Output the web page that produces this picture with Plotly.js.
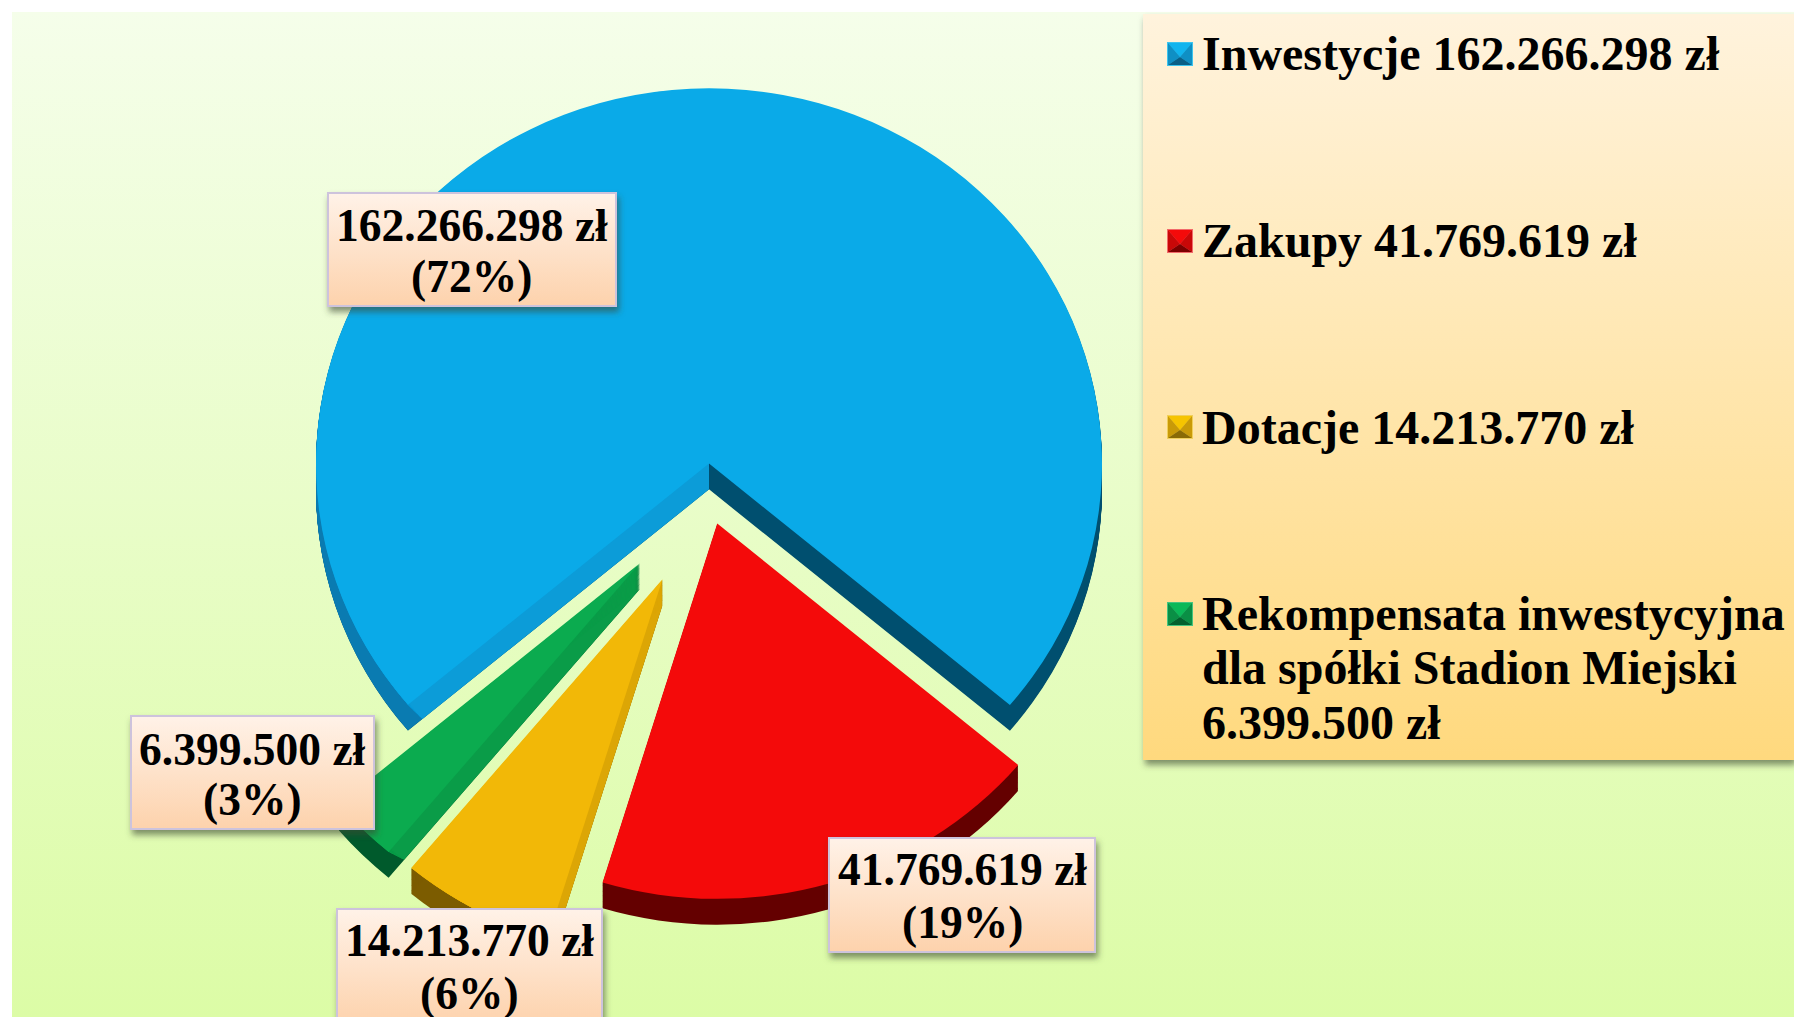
<!DOCTYPE html>
<html lang="pl">
<head>
<meta charset="utf-8">
<title>Wydatki majątkowe</title>
<script src="https://cdn.plot.ly/plotly-3.0.1.min.js"></script>
<style>
html,body{margin:0;padding:0;background:#fff;overflow:hidden}
#chart{width:1794px;height:1017px}
</style>
</head>
<body>
<div id="chart"></div>
<script>
// ---- data ----
const categories = ['Inwestycje', 'Zakupy', 'Dotacje', 'Rekompensata inwestycyjna dla spółki Stadion Miejski'];
const amounts = [162266298, 41769619, 14213770, 6399500];
const amountLabels = ['162.266.298 zł', '41.769.619 zł', '14.213.770 zł', '6.399.500 zł'];
const shareLabels = ['(72%)', '(19%)', '(6%)', '(3%)'];
const legendLines = [
  ['Inwestycje 162.266.298 zł'],
  ['Zakupy 41.769.619 zł'],
  ['Dotacje 14.213.770 zł'],
  ['Rekompensata inwestycyjna', 'dla spółki Stadion Miejski', '6.399.500 zł']
];

// ---- styles ----
const topColors = ['#0aaae8', '#f40a0a', '#f2b807', '#0bab4f'];
const sideColors = ['#004f6f', '#640000', '#7c5c00', '#005a2c'];
const cutColors = ['rgba(0,0,0,0)', 'rgba(0,0,0,0)', '#dca605', '#0a9c48'];
const blueLeftArc = '#0a7bb1', blueLeftCut = '#0c9cd8';
const CLEAR = 'rgba(0,0,0,0)';
const markerShades = [
  {rim:'#3cc4ee', top:'#12b4ee', side:'#0f8fc4', bot:'#0a5f86'},
  {rim:'#f26a6a', top:'#f40a0a', side:'#c90808', bot:'#7c0000'},
  {rim:'#f0cf5a', top:'#f6c400', side:'#c99a08', bot:'#8a6a05'},
  {rim:'#45c47f', top:'#0bb858', side:'#0a8f45', bot:'#04602e'}
];

// ---- geometry ----
const W = 1794, H = 1017;
const CX = 709, CY = 497, R = 393, SQUASH = 0.955, DEPTH = 27, STEP = 1, ROT = 230;
const pullPx = [35, 29, 98, 98];
const px = x => x / W, py = y => 1 - y / H;

function pieTrace(name, labels, values, colors, r, pulls, cy) {
  const maxPull = Math.max(...pulls);
  const half = r + maxPull;
  return {
    type: 'pie', name, labels, values, sort: false, direction: 'clockwise', rotation: ROT,
    pull: pulls.map(p => p / r),
    marker: {colors, line: {width: 0}},
    textinfo: 'none', hoverinfo: 'skip', showlegend: false,
    domain: {x: [px(CX - half), px(CX + half)], y: [py(cy + half), py(cy - half)]}
  };
}

const total = amounts.reduce((a, b) => a + b, 0);
const blueHalf = [amounts[0] / 2, total - amounts[0] / 2];
const blueHalfLabels = ['Inwestycje (bok)', 'pozostałe'];
const offsets = [];
for (let d = STEP; d <= DEPTH; d += STEP) offsets.push(d);

const traces = [];
// the thickness of the disc: the same slices swept downwards
offsets.forEach(d => traces.push(pieTrace('bok', categories, amounts, sideColors, R, pullPx, CY + d)));
offsets.forEach(d => traces.push(pieTrace('bok lewy', blueHalfLabels, blueHalf, [blueLeftArc, CLEAR], R, [0, 0], CY - pullPx[0] + d)));
offsets.forEach(d => traces.push(pieTrace('cięcie', categories, amounts, cutColors, R - d * 0.9, pullPx, CY + d)));
offsets.forEach(d => traces.push(pieTrace('cięcie lewe', blueHalfLabels, blueHalf, [blueLeftCut, CLEAR], R - d * 0.7, [0, 0], CY - pullPx[0] + d)));
traces.push(Object.assign(pieTrace('wierzch', categories, amounts, topColors, R, pullPx, CY), {hoverinfo: 'label+value'}));

// ---- panels, labels, legend ----
const shapes = [], annotations = [], decorate = [];
function rect(x0, y0, x1, y1, opts, grad, shadow) {
  shapes.push(Object.assign({type:'rect', xref:'paper', yref:'paper', x0:px(x0), x1:px(x1), y0:py(y0), y1:py(y1),
    layer:'above', line:{width:0}}, opts));
  if (grad || shadow) decorate.push({i: shapes.length - 1, grad, shadow});
}
function poly(points, fill) {
  const d = points.map((p, k) => (k ? 'L' : 'M') + px(p[0]) + ' ' + py(p[1])).join(' ') + ' Z';
  shapes.push({type:'path', xref:'paper', yref:'paper', path:d, fillcolor:fill, line:{width:0}, layer:'above'});
}
function textLine(text, x, y, size, anchor) {
  annotations.push({xref:'paper', yref:'paper', x:px(x), y:py(y), text:'<b>' + text + '</b>', showarrow:false,
    xanchor:anchor, yanchor:'middle', align:anchor, borderpad:0,
    font:{family:'"Liberation Serif","Times New Roman",serif', size, color:'#000'}});
}

rect(12, 12, 1794, 1017, {fillcolor:'#e8fcc8', layer:'below'}, 'gBack', false);
rect(1143, 14, 1794, 760, {fillcolor:'#ffe6ae'}, 'gLegend', true);

const LABEL_FS = 45.5, LEGEND_FS = 48;
const boxes = [
  {x0:328, x1:616, y0:193, y1:306, l1:225, l2:276},
  {x0:829, x1:1095, y0:838, y1:952, l1:869, l2:922},
  {x0:337, x1:602, y0:909, y1:1025, l1:940, l2:993},
  {x0:131, x1:374, y0:716, y1:829, l1:749, l2:799}
];
boxes.forEach((b, i) => {
  rect(b.x0, b.y0, b.x1, b.y1, {fillcolor:'#ffe3cc', line:{width:2, color:'#cdc3dc'}}, 'gLabel', true);
  textLine(amountLabels[i], (b.x0 + b.x1) / 2, b.l1, LABEL_FS, 'center');
  textLine(shareLabels[i], (b.x0 + b.x1) / 2, b.l2, LABEL_FS, 'center');
});

const rowCenters = [54, 241, 427, 614];
const lineCenters = [[54], [240], [427], [613, 667, 722]];
legendLines.forEach((lines, i) => {
  const c = rowCenters[i], s = markerShades[i];
  const x0 = 1167, x1 = 1193, y0 = c - 12, y1 = c + 12;
  rect(x0, y0, x1, y1, {fillcolor:s.rim});
  const a = [x0 + 1, y0 + 1], b = [x1 - 1, y0 + 1], d = [x1 - 1, y1 - 1], e = [x0 + 1, y1 - 1];
  const f = [(x0 + x1) / 2, c + 3];
  poly([a, b, f], s.top);
  poly([b, d, f], s.side);
  poly([a, e, f], s.side);
  poly([e, d, f], s.bot);
  lines.forEach((t, k) => textLine(t, 1201, lineCenters[i][k], LEGEND_FS, 'left'));
});

const layout = {
  width: W, height: H, margin: {l:0, r:0, t:0, b:0, pad:0},
  paper_bgcolor: 'rgba(0,0,0,0)', plot_bgcolor: 'rgba(0,0,0,0)',
  showlegend: false, shapes, annotations
};

Plotly.newPlot('chart', traces, layout, {displayModeBar:false}).then(gd => {
  const svg = gd.querySelector('.main-svg');
  const defs = document.createElementNS('http://www.w3.org/2000/svg', 'defs');
  const grad = (id, a, b) => `<linearGradient id="${id}" x1="0" y1="0" x2="0" y2="1"><stop offset="0" stop-color="${a}"/><stop offset="1" stop-color="${b}"/></linearGradient>`;
  defs.innerHTML = grad('gBack', '#f5feea', '#dcfca6') + grad('gLegend', '#fff3dd', '#ffd97e') + grad('gLabel', '#fff2e8', '#fdd2ac') +
    '<filter id="fShadow" x="-10%" y="-10%" width="125%" height="130%"><feDropShadow dx="2" dy="5" stdDeviation="3" flood-color="#3a4a30" flood-opacity="0.6"/></filter>';
  svg.appendChild(defs);
  decorate.forEach(d => {
    const el = gd.querySelector('.shapelayer path[data-index="' + d.i + '"]');
    if (!el) return;
    if (d.grad) el.style.fill = 'url(#' + d.grad + ')';
    if (d.shadow) el.style.filter = 'url(#fShadow)';
  });
  // the reference pie is seen in slight perspective: flatten it around its centre
  const pies = gd.querySelector('.pielayer');
  if (pies) pies.setAttribute('transform', `translate(0,${CY * (1 - SQUASH)}) scale(1,${SQUASH})`);
});
</script>
</body>
</html>
